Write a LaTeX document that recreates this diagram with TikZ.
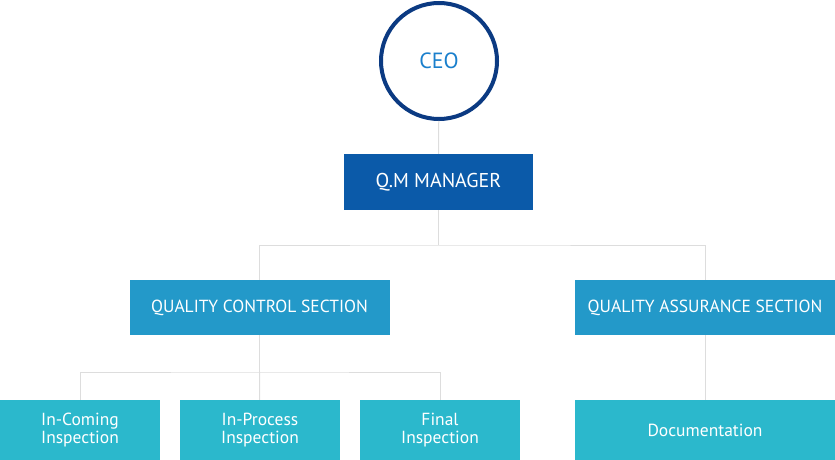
\documentclass[tikz,border=0pt]{standalone}
\usepackage{fontspec}
\setmainfont{PT Sans}
\usepackage{tikz}
\usetikzlibrary{positioning}
\definecolor{ceonavy}{HTML}{0B3A82}
\definecolor{ceotext}{HTML}{1A7FCC}
\definecolor{mgrblue}{HTML}{0B5AA9}
\definecolor{secblue}{HTML}{2399C9}
\definecolor{unitcyan}{HTML}{2BB8CC}
\definecolor{linkgray}{HTML}{DDDDDD}
\tikzstyle{every node}+=[inner sep=0pt]
\tikzstyle{boss} = [circle, draw=ceonavy, line width=4pt, minimum size=116pt, text=ceotext, font=\fontsize{22}{24}\selectfont]
\tikzstyle{block} = [rectangle, text=white, text centered, font=\fontsize{17.5}{18}\selectfont]
\tikzstyle{manager} = [block, fill=mgrblue, minimum width=189pt, minimum height=56pt, font=\fontsize{20}{22}\selectfont]
\tikzstyle{section} = [block, fill=secblue, minimum width=260pt, minimum height=55pt]
\tikzstyle{unit} = [block, fill=unitcyan, minimum width=160pt, minimum height=60pt, align=center, font=\fontsize{17.5}{18}\selectfont]
\tikzstyle{line} = [draw, linkgray, line width=1pt]

\begin{document}
\begin{tikzpicture}[x=1pt, y=-1pt]
            \useasboundingbox (0,0) rectangle (835,460);
            % Place nodes
            \node [boss] (ceo) at (439,61) {CEO};
            \node [manager] (qm) at (438.5,182) {Q.M MANAGER};
            \node [section] (qc) at (259.5,307.5) {QUALITY CONTROL SECTION};
            \node [section] (qa) at (705,307.5) {QUALITY ASSURANCE SECTION};
            \node [unit] (inc) at (80,430) {In-Coming\\Inspection};
            \node [unit] (inp) at (260,430) {In-Process\\Inspection};
            \node [unit] (fin) at (440,430) {Final\\Inspection};
            \node [unit, minimum width=260pt] (doc) at (705,430) {Documentation};
            \coordinate (j1) at (438.5,245);
            \coordinate (j2) at (259.5,372);
            % Draw edges
            \path [line] (ceo) -- (qm);
            \path [line] (qm) -- (j1);
            \path [line] (qc.north) |- (j1) -| (qa.north);
            \path [line] (qc) -- (j2);
            \path [line] (inc.north) |- (j2) -| (fin.north);
            \path [line] (j2) -- (inp);
            \path [line] (qa) -- (doc);
          \end{tikzpicture}
\end{document}
